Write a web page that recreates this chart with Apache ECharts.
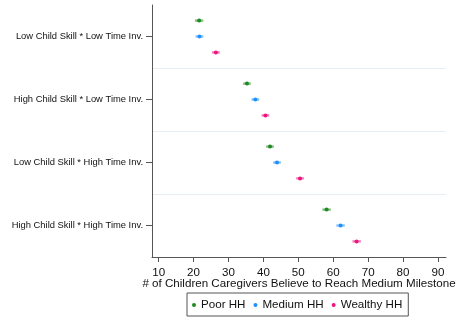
<!DOCTYPE html>
<html>
<head>
<meta charset="utf-8">
<style>
  html, body { margin: 0; padding: 0; background: #fff; }
  #chart { width: 456px; height: 322px; }
</style>
<script src="https://cdn.jsdelivr.net/npm/echarts@6/dist/echarts.min.js"></script>
</head>
<body>
<div id="chart"></div>
<script>
// Groups (top to bottom)
const categories = [
  'Low Child Skill * Low Time Inv.',
  'High Child Skill * Low Time Inv.',
  'Low Child Skill * High Time Inv.',
  'High Child Skill * High Time Inv.'
];

const seriesNames = ['Poor HH', 'Medium HH', 'Wealthy HH'];

// Point estimates per household group
const poorValues = [21.6, 35.3, 41.9, 58.1];
const mediumValues = [21.7, 37.7, 43.9, 62.1];
const wealthyValues = [26.4, 40.6, 50.5, 66.7];

// Confidence interval half-widths
const poorHalfCI = [1.2, 1.1, 1.1, 1.2];
const mediumHalfCI = [1.1, 1.1, 1.1, 1.2];
const wealthyHalfCI = [1.1, 1.1, 1.1, 1.2];

const xTicks = [10, 20, 30, 40, 50, 60, 70, 80, 90];

const colors = ['#1f8a1f', '#1e90ff', '#f0147f'];
const FONT = '"Liberation Sans", Arial, sans-serif';

function buildData(values, half) {
  return values.map((v, i) => [v, i, v - half[i], v + half[i]]);
}

const seriesData = [
  buildData(poorValues, poorHalfCI),
  buildData(mediumValues, mediumHalfCI),
  buildData(wealthyValues, wealthyHalfCI)
];

function makeRenderer(slot) {
  return function (params, api) {
    const band = api.size([0, 1])[1];
    const dy = (slot - 1) * band * 0.252;
    const c = api.coord([api.value(0), api.value(1)]);
    const lo = api.coord([api.value(2), api.value(1)]);
    const hi = api.coord([api.value(3), api.value(1)]);
    const y = c[1] + dy;
    const color = colors[slot];
    return {
      type: 'group',
      children: [
        {
          type: 'line',
          shape: { x1: lo[0], y1: y, x2: hi[0], y2: y },
          style: { stroke: color, lineWidth: 2.4, opacity: 0.55 }
        },
        {
          type: 'circle',
          shape: { cx: c[0], cy: y, r: 2 },
          style: { fill: color }
        }
      ]
    };
  };
}

const chart = echarts.init(document.getElementById('chart'), null, { renderer: 'canvas' });

chart.setOption({
  animation: false,
  backgroundColor: '#ffffff',
  color: colors,
  grid: {
    left: 152, right: 10, top: 5, bottom: 65,
    containLabel: false,
    outerBoundsMode: 'none'
  },
  xAxis: {
    type: 'value',
    min: 8.1,
    max: 92.3,
    name: '# of Children Caregivers Believe to Reach Medium Milestone',
    nameLocation: 'middle',
    nameGap: 21,
    nameMoveOverlap: false,
    nameTextStyle: { fontFamily: FONT, fontSize: 11.6, color: '#111' },
    axisLine: { show: true, lineStyle: { color: '#555', width: 1 } },
    axisTick: { show: true, length: 5, customValues: xTicks, lineStyle: { color: '#555' } },
    axisLabel: { customValues: xTicks, margin: 10, fontFamily: FONT, fontSize: 11.6, color: '#111' },
    splitLine: { show: false }
  },
  yAxis: {
    type: 'category',
    data: categories,
    inverse: true,
    boundaryGap: true,
    axisLine: { show: true, lineStyle: { color: '#555', width: 1 } },
    axisTick: { show: true, alignWithLabel: true, length: 6, lineStyle: { color: '#555' } },
    axisLabel: { margin: 9, fontFamily: FONT, fontSize: 9.4, color: '#111' },
    splitLine: {
      show: true,
      showMinLine: false,
      showMaxLine: false,
      lineStyle: { color: '#e6eef3', width: 1.2 }
    }
  },
  legend: {
    data: seriesNames.map(n => ({ name: n, icon: 'circle' })),
    left: 187,
    top: 293,
    orient: 'horizontal',
    itemWidth: 4,
    itemHeight: 4,
    itemGap: 8,
    padding: [6, 6, 5, 5],
    borderColor: '#555',
    borderWidth: 1,
    textStyle: { fontFamily: FONT, fontSize: 11.6, color: '#111' },
    selectedMode: false
  },
  series: seriesNames.map((name, k) => ({
    name: name,
    type: 'custom',
    renderItem: makeRenderer(k),
    encode: { x: [0, 2, 3], y: 1 },
    data: seriesData[k],
    itemStyle: { color: colors[k] }
  }))
});
</script>
</body>
</html>
